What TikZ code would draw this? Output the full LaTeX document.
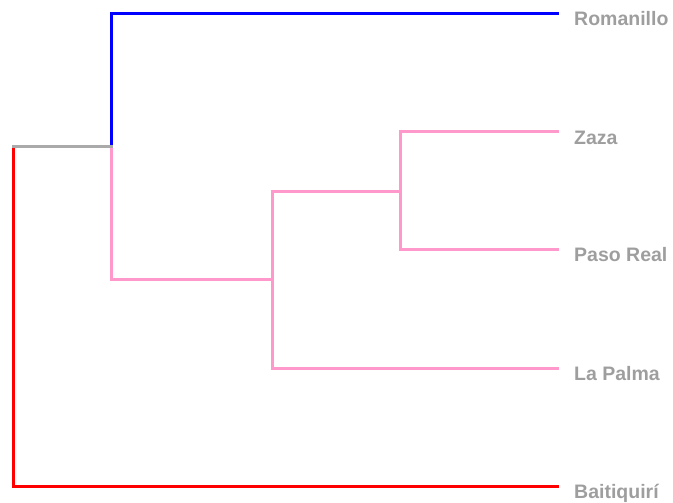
\documentclass[tikz,border=0pt]{standalone}
\usepackage{fontspec}
\setmainfont{Liberation Sans}
\definecolor{lblgray}{HTML}{9E9E9E}
\definecolor{rootgray}{HTML}{AAAAAA}
\definecolor{tblue}{HTML}{0000FF}
\definecolor{tred}{HTML}{FF0000}
\definecolor{tpink}{HTML}{FF99CC}
\begin{document}
\begin{tikzpicture}[x=1pt,y=-1pt,
  branch/.style={line width=3pt,line cap=rect,line join=miter},
  leaflabel/.style={anchor=base west,inner sep=0pt,text=lblgray,font=\fontsize{19.5}{22}\selectfont\bfseries}]
\useasboundingbox (0,0) rectangle (673,503);
% junction coordinates
\coordinate (root) at (13,147);
\coordinate (rootbot) at (13,486);
\coordinate (n1) at (111,147);
\coordinate (n1top) at (111,14);
\coordinate (n1bot) at (111,279);
\coordinate (n2mid) at (272,279);
\coordinate (n2top) at (272,191);
\coordinate (n2bot) at (272,368);
\coordinate (n3mid) at (400,191);
\coordinate (n3top) at (400,132);
\coordinate (n3bot) at (400,249);
% leaves
\coordinate (romanillo) at (557,14);
\coordinate (zaza) at (557,132);
\coordinate (pasoreal) at (557,249);
\coordinate (lapalma) at (557,368);
\coordinate (baiti) at (557,486);
% branches
\draw[branch,tred] (root) -- (rootbot) -- (baiti);
\draw[branch,tblue] (n1) -- (n1top) -- (romanillo);
\draw[branch,tpink] (n1) -- (n1bot) -- (n2mid);
\draw[branch,tpink] (n2top) -- (n2bot) -- (lapalma);
\draw[branch,tpink] (n2top) -- (n3mid);
\draw[branch,tpink] (zaza) -- (n3top) -- (n3bot) -- (pasoreal);
\draw[branch,rootgray] (root) -- (n1);
% labels
\node[leaflabel] (lromanillo) at ([xshift=17pt,yshift=-12pt]romanillo) {Romanillo};
\node[leaflabel] (lzaza) at ([xshift=17pt,yshift=-12pt]zaza) {Zaza};
\node[leaflabel] (lpasoreal) at ([xshift=17pt,yshift=-12pt]pasoreal) {Paso Real};
\node[leaflabel] (llapalma) at ([xshift=17pt,yshift=-12pt]lapalma) {La Palma};
\node[leaflabel] (lbaiti) at ([xshift=17pt,yshift=-12pt]baiti) {Baitiquirí};
\end{tikzpicture}
\end{document}
